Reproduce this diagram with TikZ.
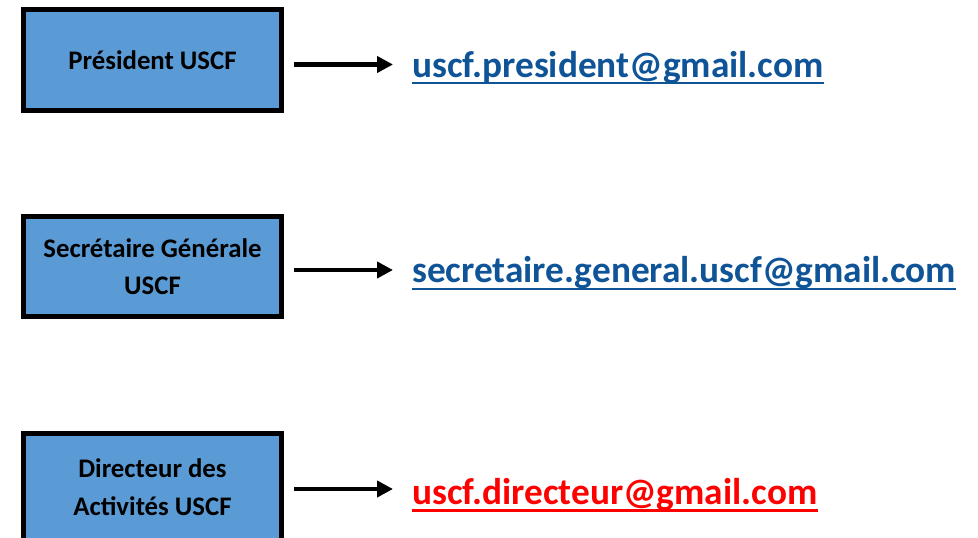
\documentclass[tikz,border=0pt]{standalone}
\usepackage{fontspec}
\setmainfont{Carlito}
\usetikzlibrary{arrows.meta}
\definecolor{boxblue}{RGB}{91,155,213}
\definecolor{linkblue}{RGB}{16,84,152}
\definecolor{linkred}{RGB}{255,0,0}
\tikzset{
  rolebox/.style={draw=black, line width=5pt, fill=boxblue},
  roletext/.style={font=\bfseries\fontsize{26.8}{37.5}\selectfont, align=center, inner sep=0pt, text=black},
  email/.style={font=\bfseries\fontsize{37.3}{44}\selectfont, inner sep=0pt, anchor=base west},
  arr/.style={line width=4.5pt, -{Triangle[length=16pt,width=16pt]}},
}
\begin{document}
\begin{tikzpicture}[x=1pt,y=-1pt]
\useasboundingbox (0,0) rectangle (978,538);
\clip (0,0) rectangle (978,538);
% boxes
\draw[rolebox] (23.5,9.5) rectangle (281.5,110.5);
\draw[rolebox] (23.5,216.5) rectangle (281.5,316.5);
\draw[rolebox] (23.5,433.5) rectangle (281.5,560);
% box texts
\node[roletext, anchor=base] (t1) at (152.5,69) {Président USCF};
\node[roletext, anchor=base] (t2a) at (152.5,257) {Secrétaire Générale};
\node[roletext, anchor=base] (t2b) at (152.5,294) {USCF};
\node[roletext, anchor=base] (t3a) at (152.5,477) {Directeur des};
\node[roletext, anchor=base] (t3b) at (152.5,515) {Activités USCF};
% emails
\node[email, text=linkblue] (e1) at (412,77) {uscf.president@gmail.com};
\node[email, text=linkblue] (e2) at (412,282) {secretaire.general.uscf@gmail.com};
\node[email, text=linkred] (e3) at (412,504) {uscf.directeur@gmail.com};
\draw[linkblue, line width=2.5pt] ([yshift=-6pt]e1.base west) -- ([yshift=-6pt]e1.base east);
\draw[linkblue, line width=2.5pt] ([yshift=-7pt]e2.base west) -- ([yshift=-7pt]e2.base east);
\draw[linkred, line width=2.5pt] ([yshift=-6.5pt]e3.base west) -- ([yshift=-6.5pt]e3.base east);
% arrows
\coordinate (a1) at (294,64.5);
\coordinate (a2) at (294,270);
\coordinate (a3) at (294,489);
\draw[arr] (a1) -- ([xshift=-19pt]e1.west |- a1);
\draw[arr] (a2) -- ([xshift=-19pt]e2.west |- a2);
\draw[arr] (a3) -- ([xshift=-19pt]e3.west |- a3);
\end{tikzpicture}
\end{document}
